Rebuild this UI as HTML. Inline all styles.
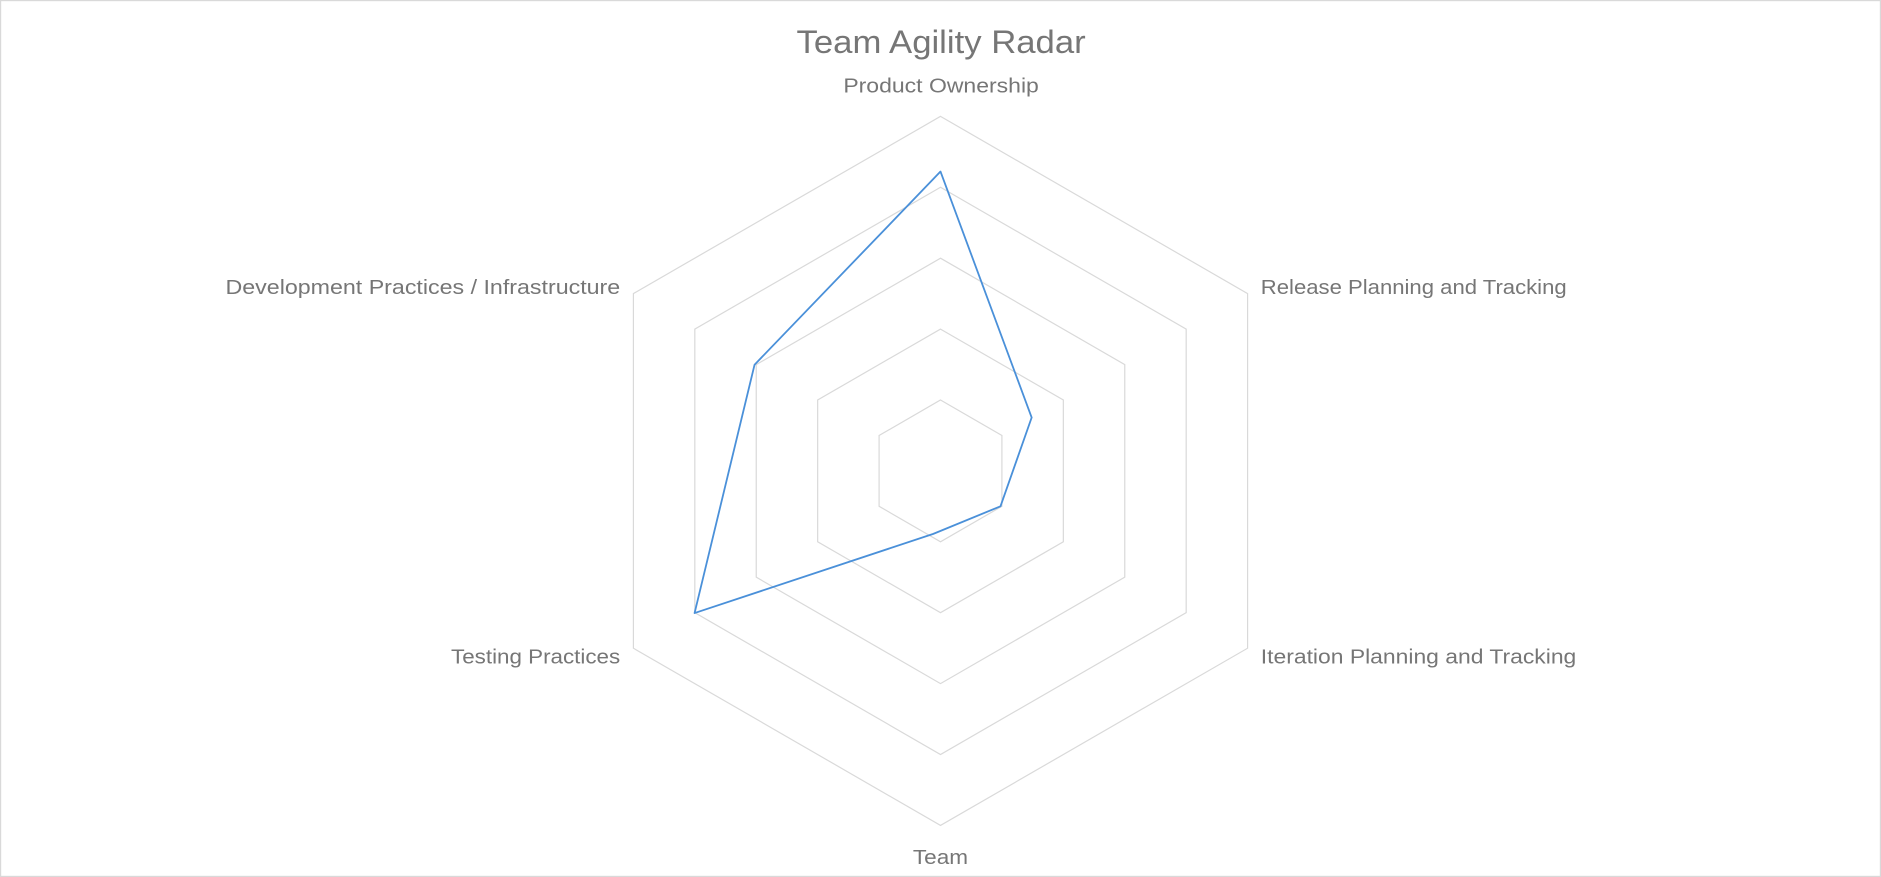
<!DOCTYPE html>
<html><head><meta charset="utf-8"><style>
html,body{margin:0;padding:0;background:#fff;}
svg{display:block;}
text{font-family:"Liberation Sans",sans-serif;fill:#767676;}
</style></head><body>
<svg width="1881" height="877" viewBox="0 0 1568 731" preserveAspectRatio="none" xmlns="http://www.w3.org/2000/svg">
<rect x="0.5" y="0.5" width="1567" height="730" fill="#fff" stroke="#d9d9d9" stroke-width="1"/>
<text x="664" y="44" font-size="27" textLength="241" lengthAdjust="spacingAndGlyphs">Team Agility Radar</text>
<g fill="none" stroke="#d9d9d9" stroke-width="1">
<polygon points="784,333.4 835.2,363 835.2,422 784,451.6 732.8,422 732.8,363"/>
<polygon points="784,274.3 886.4,333.4 886.4,451.6 784,510.7 681.6,451.6 681.6,333.4"/>
<polygon points="784,215.2 937.6,303.9 937.6,481.1 784,569.8 630.4,481.1 630.4,303.9"/>
<polygon points="784,156.1 988.8,274.3 988.8,510.7 784,628.9 579.2,510.7 579.2,274.3"/>
<polygon points="784,97 1040,244.7 1040,540.3 784,688 528,540.3 528,244.7"/>
</g>
<polygon fill="none" stroke="#4a90d9" stroke-width="1.5" stroke-linejoin="round" points="784,143 860,348 834,422 778,445 579,511 629,304"/>
<g font-size="17" lengthAdjust="spacingAndGlyphs">
<text x="703" y="77" textLength="163" lengthAdjust="spacingAndGlyphs">Product Ownership</text>
<text x="1051" y="245" textLength="255" lengthAdjust="spacingAndGlyphs">Release Planning and Tracking</text>
<text x="1051" y="553" textLength="263" lengthAdjust="spacingAndGlyphs">Iteration Planning and Tracking</text>
<text x="761" y="720" textLength="46" lengthAdjust="spacingAndGlyphs">Team</text>
<text x="376" y="553" textLength="141" lengthAdjust="spacingAndGlyphs">Testing Practices</text>
<text x="188" y="245" textLength="329" lengthAdjust="spacingAndGlyphs">Development Practices / Infrastructure</text>
</g>
</svg>
</body></html>
